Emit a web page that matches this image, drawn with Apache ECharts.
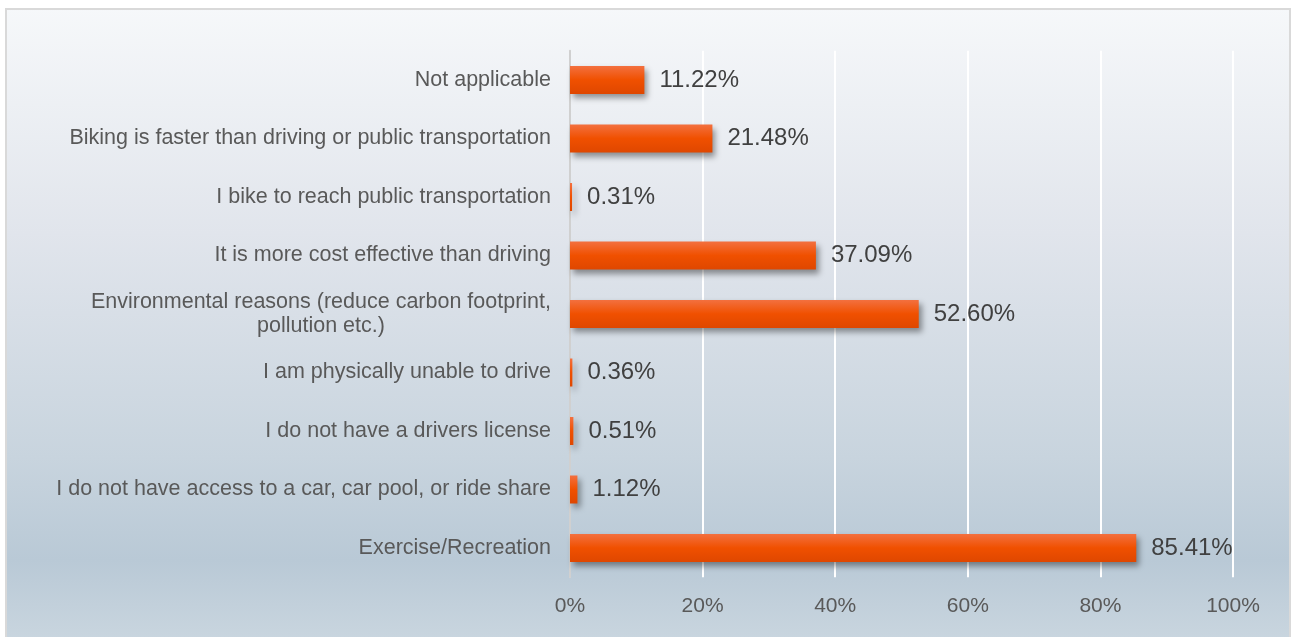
<!DOCTYPE html>
<html>
<head>
<meta charset="utf-8">
<script src="https://cdn.jsdelivr.net/npm/echarts@6/dist/echarts.min.js"></script>
<style>
html,body{margin:0;padding:0;background:#fff;}
#main{width:1292px;height:637px;}
</style>
</head>
<body>
<div id="main"></div>
<script>
// categories bottom -> top (category axis runs upward)
var categories = [
    'Exercise/Recreation',
    'I do not have access to a car, car pool, or ride share',
    'I do not have a drivers license',
    'I am physically unable to drive',
    'Environmental reasons (reduce carbon footprint,\npollution etc.)',
    'It is more cost effective than driving',
    'I bike to reach public transportation',
    'Biking is faster than driving or public transportation',
    'Not applicable'
];
var values = [85.41, 1.12, 0.51, 0.36, 52.60, 37.09, 0.31, 21.48, 11.22];
var tickLabels = ['0%', '20%', '40%', '60%', '80%', '100%'];

var font = 'Liberation Sans, Arial, sans-serif';
var chart = echarts.init(document.getElementById('main'));
var option = {
    animation: false,
    graphic: [{
        type: 'rect',
        z: -10,
        shape: {x: 6, y: 9, width: 1284, height: 640},
        style: {
            fill: new echarts.graphic.LinearGradient(0, 0, 0, 1, [
                {offset: 0, color: '#f6f8fa'},
                {offset: 0.35, color: '#e1e5ec'},
                {offset: 0.7, color: '#c8d4de'},
                {offset: 0.86, color: '#b9c9d6'},
                {offset: 1, color: '#cbd7e0'}
            ]),
            stroke: '#d9d9d9',
            lineWidth: 2
        }
    }],
    grid: {left: 570, right: 59, top: 50.75, height: 526.5, containLabel: false},
    xAxis: {
        type: 'value',
        min: 0,
        max: 100,
        interval: 20,
        axisLine: {show: false},
        axisTick: {show: false},
        splitLine: {lineStyle: {color: '#ffffff', width: 2}},
        axisLabel: {
            margin: 18,
            color: '#595959',
            fontSize: 21,
            fontFamily: font,
            formatter: function (v) { return tickLabels[v / 20]; }
        }
    },
    yAxis: {
        type: 'category',
        data: categories,
        axisLine: {lineStyle: {color: '#d0d0d0', width: 2}},
        axisTick: {show: false},
        axisLabel: {
            margin: 19,
            color: '#595959',
            fontSize: 21.5,
            fontFamily: font,
            lineHeight: 24,
            formatter: function (v) { return '{c|' + v.split('\n').join('}\n{c|') + '}'; },
            rich: {c: {align: 'center', fontSize: 21.5, color: '#595959', lineHeight: 24, fontFamily: font}}
        }
    },
    series: [{
        type: 'bar',
        data: values,
        barWidth: 28,
        itemStyle: {
            color: new echarts.graphic.LinearGradient(0, 0, 0, 1, [
                {offset: 0, color: '#f3703f'},
                {offset: 0.5, color: '#f05000'},
                {offset: 1, color: '#df4700'}
            ]),
            shadowColor: 'rgba(0,0,0,0.4)',
            shadowBlur: 6,
            shadowOffsetX: 3,
            shadowOffsetY: 4
        },
        label: {
            show: true,
            position: 'right',
            distance: 15,
            color: '#404040',
            fontSize: 24,
            fontFamily: font,
            formatter: function (p) { return p.value.toFixed(2) + '%'; }
        }
    }]
};
chart.setOption(option);
</script>
</body>
</html>
